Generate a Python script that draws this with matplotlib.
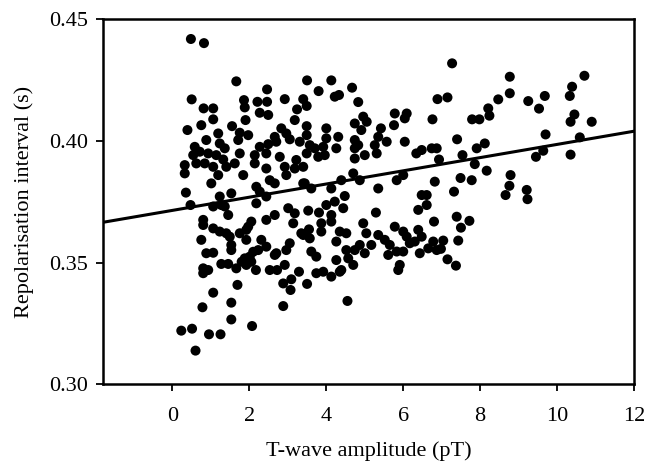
import numpy as np
import matplotlib
matplotlib.use("Agg")
import matplotlib.pyplot as plt

# (T-wave amplitude pT, repolarisation interval s)
upper_left = [
    (0.48, 0.4419), (0.82, 0.4402), (1.66, 0.4245), (2.46, 0.4212), (0.50, 0.4171), (0.81, 0.4134),
    (1.06, 0.4134), (1.06, 0.4089), (1.86, 0.4168), (1.88, 0.4138), (2.21, 0.4161), (2.46, 0.4161),
    (2.27, 0.4116), (2.49, 0.4107), (2.92, 0.4172), (3.40, 0.4172), (3.24, 0.4130), (3.49, 0.4144),
    (1.90, 0.4086), (3.18, 0.4086), (3.49, 0.4061), (0.39, 0.4045), (0.75, 0.4065), (1.55, 0.4061),
    (1.75, 0.4034), (1.19, 0.4031), (1.97, 0.4024), (2.83, 0.4052), (2.66, 0.4017), (2.96, 0.4031),
    (0.88, 0.4004), (0.58, 0.3976), (1.23, 0.3990), (1.36, 0.3970), (0.71, 0.3956), (1.71, 0.4004),
    (2.27, 0.3976), (2.49, 0.3987), (2.70, 0.3997), (3.05, 0.4007), (3.31, 0.3997), (3.49, 0.4024),
    (0.54, 0.3942), (0.93, 0.3949), (1.14, 0.3942), (1.32, 0.3924), (1.75, 0.3949), (2.14, 0.3942),
    (2.44, 0.3949), (2.79, 0.3935), (3.22, 0.3922), (3.49, 0.3949), (0.32, 0.3901), (0.62, 0.3908),
    (0.84, 0.3908), (1.06, 0.3894), (1.40, 0.3894), (1.62, 0.3908), (1.84, 0.3860), (2.14, 0.3908),
    (2.44, 0.3887), (2.92, 0.3894), (3.18, 0.3887), (3.40, 0.3894), (0.32, 0.3867), (1.19, 0.3860),
    (1.01, 0.3826), (2.18, 0.3812), (2.53, 0.3839), (2.66, 0.3826), (2.96, 0.3860), (3.40, 0.3826),
]
upper_mid = [
    (3.50, 0.4249), (4.13, 0.4249), (3.80, 0.4205), (4.67, 0.4219), (4.22, 0.4182), (4.33, 0.4189),
    (4.83, 0.4160), (5.78, 0.4113), (6.09, 0.4113), (6.04, 0.4093), (4.96, 0.4100), (4.74, 0.4072),
    (5.05, 0.4079), (4.91, 0.4045), (4.00, 0.4052), (4.31, 0.4017), (5.42, 0.4052), (5.76, 0.4065),
    (6.76, 0.4089), (6.89, 0.4172), (3.57, 0.3983), (4.00, 0.4011), (3.70, 0.3970), (3.92, 0.3976),
    (3.79, 0.3935), (3.96, 0.3942), (4.26, 0.3970), (4.74, 0.4004), (4.83, 0.3983), (4.74, 0.3970),
    (5.00, 0.3942), (4.74, 0.3928), (5.26, 0.3983), (5.35, 0.4017), (5.57, 0.3997), (5.31, 0.3949),
    (6.04, 0.3997), (6.34, 0.3949), (6.48, 0.3963), (6.74, 0.3970), (6.87, 0.3970), (6.93, 0.3924),
    (3.44, 0.3826), (3.61, 0.3805), (4.13, 0.3805), (4.39, 0.3839), (4.70, 0.3867), (4.87, 0.3839),
    (5.83, 0.3839), (6.00, 0.3860), (6.82, 0.3833), (5.35, 0.3805),
]
upper_right = [
    (7.27, 0.4319), (7.15, 0.4179), (8.77, 0.4264), (8.77, 0.4196), (8.47, 0.4171), (8.21, 0.4134),
    (8.24, 0.4104), (7.79, 0.4089), (7.98, 0.4089), (9.25, 0.4164), (9.53, 0.4133), (9.68, 0.4185),
    (10.33, 0.4185), (10.39, 0.4223), (10.71, 0.4268), (10.45, 0.4109), (10.35, 0.4079), (10.90, 0.4079),
    (9.70, 0.4027), (10.59, 0.4015), (7.40, 0.4007), (7.91, 0.3970), (8.12, 0.3990), (7.54, 0.3942),
    (7.86, 0.3905), (9.45, 0.3935), (9.64, 0.3960), (10.35, 0.3944), (7.49, 0.3848), (7.78, 0.3839),
    (8.17, 0.3878), (8.79, 0.3860), (8.76, 0.3816),
]
lower_right = [
    (7.32, 0.3792), (8.66, 0.3778), (9.21, 0.3799), (9.23, 0.3761), (7.39, 0.3689), (7.72, 0.3672),
    (7.50, 0.3644), (7.04, 0.3591), (7.43, 0.3591), (6.98, 0.3557), (7.15, 0.3514), (7.37, 0.3488),
]
lower_left = [
    (0.35, 0.3788), (1.23, 0.3772), (1.53, 0.3785), (2.27, 0.3792), (2.44, 0.3772), (0.47, 0.3737),
    (1.06, 0.3731), (1.27, 0.3737), (1.36, 0.3731), (2.18, 0.3744), (1.45, 0.3696), (0.80, 0.3676),
    (0.80, 0.3655), (1.06, 0.3641), (1.23, 0.3628), (1.40, 0.3621), (1.49, 0.3607), (1.53, 0.3573),
    (1.53, 0.3552), (0.75, 0.3594), (1.75, 0.3621), (1.92, 0.3635), (2.05, 0.3669), (1.97, 0.3648),
    (1.92, 0.3594), (2.44, 0.3676), (2.66, 0.3696), (3.01, 0.3724), (3.18, 0.3703), (3.14, 0.3662),
    (3.35, 0.3621), (2.31, 0.3594), (2.44, 0.3566), (2.66, 0.3532), (2.70, 0.3539), (3.05, 0.3580),
    (2.96, 0.3552), (0.88, 0.3539), (1.06, 0.3541), (0.80, 0.3477), (0.93, 0.3470), (0.80, 0.3457),
    (1.27, 0.3495), (1.45, 0.3495), (1.66, 0.3477), (1.80, 0.3504), (1.88, 0.3518), (2.01, 0.3525),
    (2.10, 0.3545), (2.23, 0.3552), (1.92, 0.3491), (2.05, 0.3504), (2.17, 0.3470), (2.53, 0.3470),
    (2.72, 0.3470), (2.92, 0.3491), (3.29, 0.3463), (3.09, 0.3432), (2.88, 0.3415), (3.07, 0.3388),
    (1.69, 0.3409), (1.06, 0.3377), (1.53, 0.3336), (0.78, 0.3317), (2.88, 0.3322), (1.53, 0.3267),
    (2.07, 0.3240), (0.23, 0.3221), (0.51, 0.3229), (0.95, 0.3206), (1.25, 0.3206), (0.60, 0.3139),
]
lower_mid = [
    (4.48, 0.3774), (6.48, 0.3778), (6.61, 0.3778), (6.61, 0.3737), (6.39, 0.3717), (4.22, 0.3751),
    (4.00, 0.3737), (4.44, 0.3724), (3.53, 0.3714), (3.81, 0.3706), (4.13, 0.3696), (4.13, 0.3669),
    (5.29, 0.3706), (3.87, 0.3662), (3.87, 0.3628), (4.96, 0.3662), (6.80, 0.3669), (3.40, 0.3614),
    (3.55, 0.3637), (3.57, 0.3600), (4.35, 0.3628), (4.52, 0.3621), (4.26, 0.3587), (5.04, 0.3621),
    (5.35, 0.3614), (5.52, 0.3594), (5.65, 0.3573), (5.78, 0.3648), (6.00, 0.3628), (6.09, 0.3607),
    (6.39, 0.3635), (6.48, 0.3607), (6.30, 0.3587), (6.78, 0.3587), (6.65, 0.3559), (6.87, 0.3552),
    (4.87, 0.3573), (4.74, 0.3552), (5.00, 0.3539), (5.17, 0.3573), (4.52, 0.3552), (4.57, 0.3518),
    (4.70, 0.3491), (4.26, 0.3511), (3.61, 0.3546), (3.74, 0.3525), (5.61, 0.3532), (5.83, 0.3546),
    (6.00, 0.3546), (5.91, 0.3491), (5.87, 0.3470), (6.17, 0.3580), (6.43, 0.3539), (3.74, 0.3457),
    (3.92, 0.3463), (4.13, 0.3443), (4.35, 0.3463), (4.39, 0.3470), (3.50, 0.3413), (4.55, 0.3343),
]

# regression line as drawn on the figure
fit_intercept = 0.3715
fit_slope = 0.00271

x_ticks = [0, 2, 4, 6, 8, 10, 12]
y_ticks = [0.30, 0.35, 0.40, 0.45]

plt.rcParams['font.family'] = ['Liberation Serif', 'DejaVu Serif']

pts = np.array(upper_left + upper_mid + upper_right + lower_right + lower_left + lower_mid)

fig = plt.figure(figsize=(6.45, 4.70), dpi=100)
ax = fig.add_axes([0.160, 0.182, 0.823, 0.777])

ax.scatter(pts[:, 0], pts[:, 1], s=52, color='black', edgecolors='none', zorder=3)

xlim = (-1.8, 12)
xs = np.array(xlim)
ax.plot(xs, fit_intercept + fit_slope * xs, color='black', lw=2.2, zorder=2)

ax.set_xlim(*xlim)
ax.set_ylim(0.30, 0.45)
ax.set_xticks(x_ticks)
ax.set_yticks(y_ticks)
ax.set_yticklabels(["%.2f" % v for v in y_ticks])

for s in ax.spines.values():
    s.set_linewidth(1.8)
ax.tick_params(axis='both', direction='out', width=1.3, length=5, labelsize=16, colors='black')
ax.tick_params(axis='x', pad=11)
ax.tick_params(axis='y', pad=6)

ax.set_xlabel("T-wave amplitude (pT)", fontsize=16, labelpad=11)
ax.set_ylabel("Repolarisation interval (s)", fontsize=16, labelpad=11)

fig.savefig("out.png", dpi=100)
